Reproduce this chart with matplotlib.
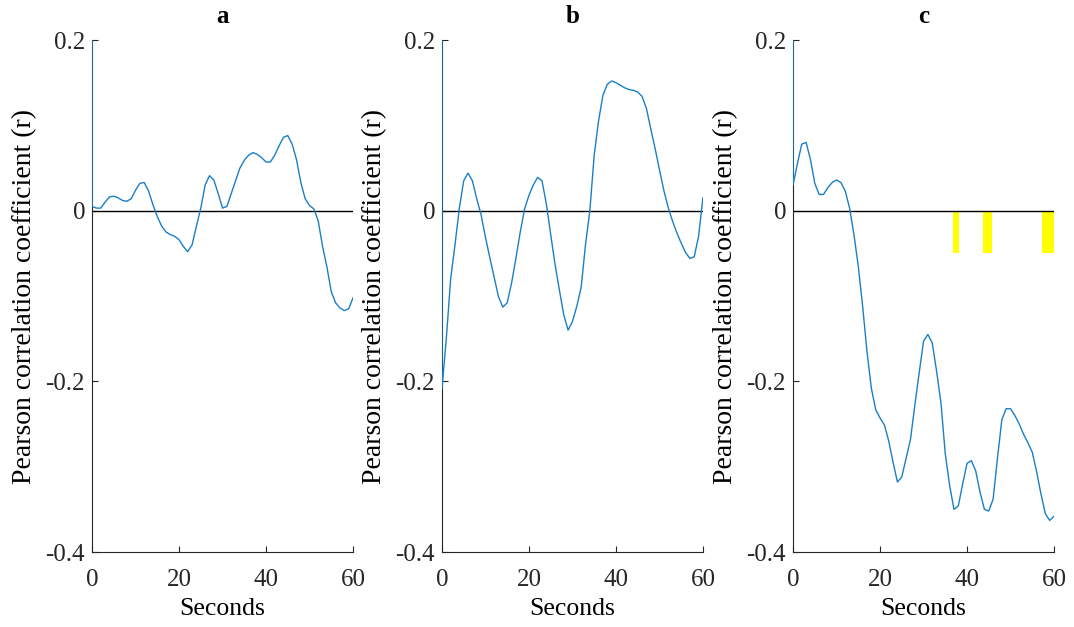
import numpy as np
import matplotlib
matplotlib.use("Agg")
import matplotlib.pyplot as plt

plt.rcParams['font.family'] = ['Liberation Serif', 'DejaVu Serif']
plt.rcParams['font.size'] = 18

# lag in seconds; the first sample is the zero-lag value clipped at the top of the axis
seconds = [0] + list(range(0, 61))

r_a = [0.2, 0.005, 0.003, 0.003, 0.010, 0.016, 0.017, 0.015, 0.012, 0.011, 0.014, 0.024,
       0.032, 0.033, 0.023, 0.007, -0.007, -0.018, -0.025, -0.028, -0.030, -0.034,
       -0.042, -0.048, -0.040, -0.018, 0.003, 0.030, 0.041, 0.036, 0.020, 0.003,
       0.005, 0.020, 0.035, 0.050, 0.059, 0.065, 0.068, 0.066, 0.062, 0.057,
       0.057, 0.065, 0.076, 0.086, 0.088, 0.078, 0.060, 0.033, 0.014, 0.006,
       0.002, -0.012, -0.042, -0.066, -0.095, -0.108, -0.114, -0.117, -0.115, -0.102]

r_b = [0.2, -0.209, -0.150, -0.080, -0.040, 0.003, 0.035, 0.044, 0.035, 0.014, -0.005, -0.031,
       -0.055, -0.078, -0.101, -0.113, -0.108, -0.085, -0.056, -0.025, 0.002, 0.018,
       0.030, 0.039, 0.035, 0.008, -0.028, -0.063, -0.093, -0.122, -0.140, -0.130,
       -0.112, -0.090, -0.040, 0.000, 0.065, 0.105, 0.135, 0.148, 0.152, 0.150,
       0.147, 0.144, 0.142, 0.141, 0.139, 0.134, 0.120, 0.096, 0.073, 0.048,
       0.024, 0.004, -0.012, -0.026, -0.038, -0.049, -0.056, -0.054, -0.030, 0.015]

r_c = [0.2, 0.030, 0.055, 0.078, 0.080, 0.060, 0.032, 0.019, 0.019, 0.027, 0.033, 0.036,
       0.033, 0.023, 0.003, -0.028, -0.065, -0.112, -0.165, -0.208, -0.233, -0.243,
       -0.251, -0.270, -0.295, -0.318, -0.312, -0.290, -0.268, -0.228, -0.190, -0.153,
       -0.145, -0.155, -0.188, -0.225, -0.285, -0.322, -0.350, -0.346, -0.320, -0.296,
       -0.293, -0.305, -0.330, -0.350, -0.352, -0.338, -0.290, -0.245, -0.232, -0.232,
       -0.240, -0.250, -0.262, -0.272, -0.283, -0.306, -0.332, -0.355, -0.363, -0.358]

# yellow marks in panel c
mark_start = [36.7, 43.7, 57.3]
mark_end = [38.2, 45.7, 60.0]
mark_depth = -0.05

panels = ['a', 'b', 'c']
series = [r_a, r_b, r_c]
yticks = [-0.4, -0.2, 0, 0.2]
ytick_labels = ['-0.4', '-0.2', '0', '0.2']
xticks = [0, 20, 40, 60]

fig = plt.figure(figsize=(10.74, 6.27), dpi=100)
lefts = [0.0857, 0.4115, 0.7384]

for i, (name, r) in enumerate(zip(panels, series)):
    ax = fig.add_axes([lefts[i], 0.1196, 0.243, 0.8166])
    if name == 'c':
        ax.bar(mark_start, mark_depth, width=np.array(mark_end) - np.array(mark_start),
               align='edge', color='#FFFF00', zorder=1)
    ax.plot([0, 60], [0, 0], color='black', lw=1.0, zorder=2)
    ax.plot(seconds, r, color='#1a7fc6', lw=1.0, zorder=3)
    ax.set_xlim(0, 60)
    ax.set_ylim(-0.4, 0.2)
    ax.set_xticks(xticks)
    ax.set_yticks(yticks)
    ax.set_yticklabels(ytick_labels)
    ax.spines['top'].set_visible(False)
    ax.spines['right'].set_visible(False)
    for s in ['left', 'bottom']:
        ax.spines[s].set_color('#262626')
        ax.spines[s].set_linewidth(0.8)
    ax.tick_params(direction='in', length=4, width=0.8, colors='#262626',
                   labelsize=18)
    ax.tick_params(axis='x', pad=12)
    ax.tick_params(axis='y', pad=5)
    ax.set_xlabel('Seconds', fontsize=18.5, labelpad=5)
    ax.set_ylabel('Pearson correlation coefficient (r)', fontsize=20, labelpad=6)
    ax.set_title(name, fontweight='bold', fontsize=18, pad=12)

fig.savefig('out.png', dpi=100)
